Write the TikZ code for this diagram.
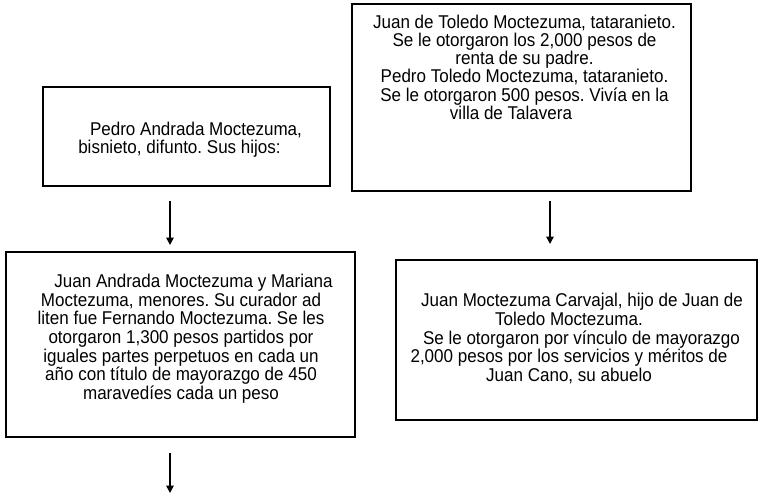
\documentclass[tikz,border=0pt]{standalone}
\usepackage{fontspec}
\setmainfont[FakeStretch=0.92]{Liberation Sans}
\usetikzlibrary{arrows.meta}
\frenchspacing
\begin{document}
\begin{tikzpicture}[x=1pt,y=-1pt,
  box/.style={draw=black, line width=2pt, rectangle, inner sep=0pt},
  txt/.style={align=center, inner sep=0pt, anchor=base, font=\fontsize{18.5}{#1}\selectfont\frenchspacing},
  txt/.default=18.5,
  arr/.style={draw=black, line width=1.6pt, -{Triangle[width=7.5pt,length=7.5pt]}}]
\useasboundingbox[fill=white] (0,0) rectangle (758,495);
% boxes
\node[box, minimum width=287pt, minimum height=99pt] (b1) at (186.5,136.5) {};
\node[box, minimum width=339pt, minimum height=187pt] (b2) at (521.5,97.5) {};
\node[box, minimum width=349pt, minimum height=185pt] (b3) at (180.5,344.5) {};
\node[box, minimum width=361pt, minimum height=160pt] (b4) at (576.5,340) {};
% texts (base anchor = baseline of the last line)
\node[txt=18.3] (t1) at (186.5,153.3) {\hspace*{19pt}Pedro Andrada Moctezuma,\\bisnieto, difunto. Sus hijos:\hspace*{14pt}};
\node[txt=18.2] (t2) at (524.5,119.3) {Juan de Toledo Moctezuma, tataranieto.\\Se le otorgaron los 2,000 pesos de\\renta de su padre.\hspace*{37pt}\\Pedro Toledo Moctezuma, tataranieto.\\Se le otorgaron 500 pesos. Vivía en la\\villa de Talavera\hspace*{27pt}};
\node[txt=18.7] (t3) at (181,399.5) {\hspace*{25pt}Juan Andrada Moctezuma y Mariana\\Moctezuma, menores. Su curador ad\\liten fue Fernando Moctezuma. Se les\\otorgaron 1,300 pesos partidos por\\iguales partes perpetuos en cada un\\año con título de mayorazgo de 450\\maravedíes cada un peso};
\node[txt=18.75] (t4) at (569,381.5) {\hspace*{26pt}Juan Moctezuma Carvajal, hijo de Juan de\\Toledo Moctezuma.\\\hspace*{25pt}Se le otorgaron por vínculo de mayorazgo\\2,000 pesos por los servicios y méritos de\\Juan Cano, su abuelo};
% arrows
\coordinate (e3) at (170,493);
\draw[arr] ([xshift=-16.5pt,yshift=-14pt]b1.south) -- ([xshift=-10.5pt,yshift=6pt]b3.north);
\draw[arr] ([xshift=28.5pt,yshift=-9pt]b2.south) -- ([xshift=-26.5pt,yshift=15pt]b4.north);
\draw[arr] ([xshift=-10.5pt,yshift=-15pt]b3.south) -- (e3);
\end{tikzpicture}
\end{document}
